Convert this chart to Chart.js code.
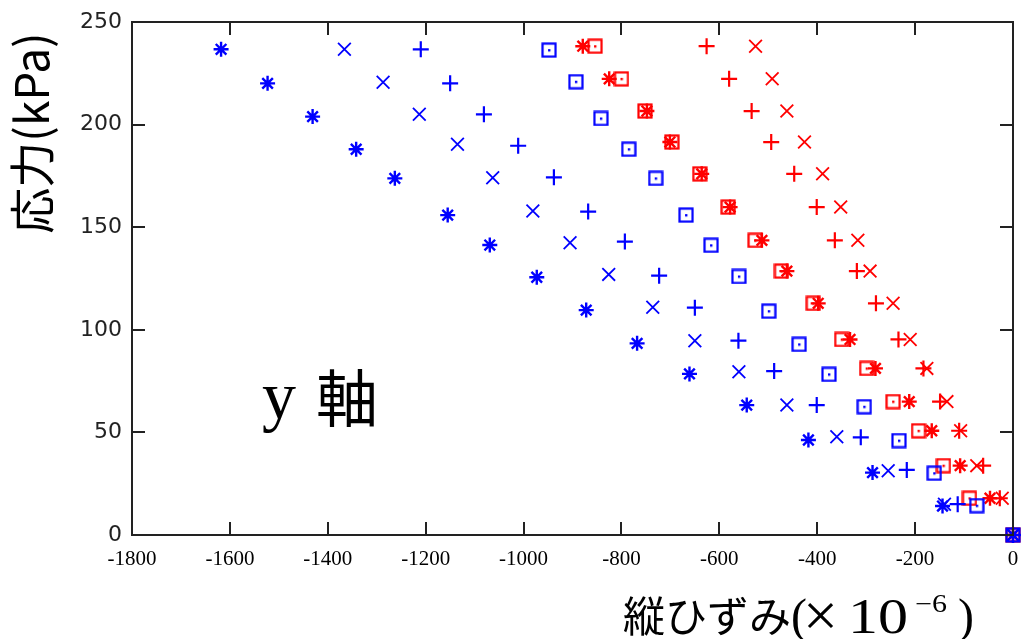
<!DOCTYPE html>
<html>
<head>
<meta charset="utf-8">
<script src="https://cdn.jsdelivr.net/npm/chart.js@4/dist/chart.umd.min.js"></script>
<style>
html,body{margin:0;padding:0;background:#fff;}
#wrap{width:1022px;height:639px;position:relative;}
</style>
</head>
<body>
<div id="wrap"><canvas id="c" width="1022" height="639"></canvas></div>
<script>
// ---- data ----
const xTickValues = [-1800,-1600,-1400,-1200,-1000,-800,-600,-400,-200,0];
const xTickLabels = ['-1800','-1600','-1400','-1200','-1000','-800','-600','-400','-200','0'];
const yTickValues = [0,50,100,150,200,250];
const yTickLabels = ['0','50','100','150','200','250'];

const blueStarX = [-1618,-1523,-1431,-1342,-1263,-1155,-1069,-973,-872,-768,-661,-544,-418,-287,-144,0];
const blueStarY = [236.7,220.1,203.9,188,173.8,155.9,141.3,125.6,109.6,93.4,78.5,63.3,46.3,30.4,14.1,0];

const blueXmarkX = [-1366,-1287,-1213,-1135,-1063,-981,-905,-826,-736,-650,-560,-462,-360,-255,-140,0];
const blueXmarkY = [236.7,220.6,205,190.4,174.1,157.9,142.4,127,111,94.7,79.6,63.4,47.9,31.3,15,0];

const bluePlusX = [-1210,-1150,-1081,-1011,-938,-868,-793,-723,-650,-561,-488,-401,-311,-217,-113,0];
const bluePlusY = [236.7,220.1,205,189.7,174.3,157.6,143,126.4,110.8,94.7,79.9,63.3,47.6,31.7,15,0];

const blueSquareX = [-948,-893,-842,-785,-730,-668,-617,-560,-499,-437,-376,-304,-233,-161,-74,0];
const blueSquareY = [236.3,220.9,203,188,173.8,155.9,141.2,126,109.1,92.9,78.3,62.5,46,30.1,14.3,0];

const redY = [238.2,222.3,206.6,191.5,176,159.8,143.6,128.6,112.9,95.3,81.2,65,50.8,33.8,17.9,0];
const redSquareX = [-854,-800,-752,-697,-640,-582,-527,-473,-408,-350,-299,-245,-193,-142,-89,0];
const redStarX = [-879,-825,-748,-701,-636,-578,-513,-462,-398,-333,-281,-212,-166,-108,-47,0];
const redPlusX = [-626,-580,-534,-494,-447,-401,-364,-319,-280,-234,-183,-149,-110,-61,-27,0];
const redXmarkX = [-526,-492,-462,-426,-389,-352,-317,-292,-245,-210,-176,-135,-107,-74,-22,0];

const BLUE = '#0000ff', RED = '#ff0000';

function pts(xs, ys){ return xs.map((v,i)=>({x:v, y:ys[i]})); }

function squareDot(color){
  const c = document.createElement('canvas');
  c.width = 16; c.height = 16;
  const g = c.getContext('2d');
  g.strokeStyle = color; g.lineWidth = 2.2;
  g.strokeRect(1.5,1.5,13,13);
  g.fillStyle = color;
  g.fillRect(7,7,2.4,2.4);
  return c;
}

function ds(data, color, style, radius, bw){
  return {data, pointStyle: style, pointRadius: radius, pointHoverRadius: radius,
    borderColor: color, backgroundColor: 'rgba(0,0,0,0)', pointBorderWidth: bw,
    showLine: false, clip: false};
}

const deco = {
  id: 'deco',
  afterDraw(chart){
    const {ctx, chartArea: a, scales: {x, y}} = chart;
    ctx.save();
    ctx.strokeStyle = '#222'; ctx.lineWidth = 2;
    ctx.strokeRect(a.left, a.top, a.right - a.left, a.bottom - a.top);
    const L = 13;
    ctx.beginPath();
    xTickValues.forEach(v => {
      const p = Math.round(x.getPixelForValue(v));
      ctx.moveTo(p, a.bottom); ctx.lineTo(p, a.bottom - L);
      ctx.moveTo(p, a.top); ctx.lineTo(p, a.top + L);
    });
    yTickValues.forEach(v => {
      const p = Math.round(y.getPixelForValue(v));
      ctx.moveTo(a.left, p); ctx.lineTo(a.left + L, p);
      ctx.moveTo(a.right, p); ctx.lineTo(a.right - L, p);
    });
    ctx.stroke();

    ctx.fillStyle = '#000';
    // y axis title
    ctx.save();
    ctx.translate(32, 133);
    ctx.rotate(-Math.PI/2);
    ctx.textAlign = 'center'; ctx.textBaseline = 'middle';
    ctx.font = '46px "Noto Sans CJK JP"';
    ctx.fillText('応力(kPa)', 0, 0);
    ctx.restore();

    // x axis title
    ctx.textAlign = 'left'; ctx.textBaseline = 'alphabetic';
    ctx.font = '42px "Noto Sans CJK JP"';
    ctx.fillText('縦ひずみ', 623, 632);
    ctx.font = '48px "Liberation Serif"';
    ctx.fillText('(', 791, 632);
    ctx.font = '62px "Liberation Serif"';
    ctx.fillText('×', 803, 636);
    ctx.save();
    ctx.translate(848, 633);
    ctx.scale(1.2, 1);
    ctx.font = '50px "Liberation Serif"';
    ctx.fillText('10', 0, 0);
    ctx.restore();
    ctx.save();
    ctx.translate(915, 612);
    ctx.scale(1.2, 1);
    ctx.font = '25px "Liberation Serif"';
    ctx.fillText('−6', 0, 0);
    ctx.restore();
    ctx.font = '48px "Liberation Serif"';
    ctx.fillText(')', 958, 632);

    // annotation
    ctx.font = '68px "Liberation Serif"';
    ctx.fillText('y', 262, 419);
    ctx.font = '62px "Noto Sans CJK JP"';
    ctx.textBaseline = 'middle';
    ctx.fillText('軸', 316, 398);
    ctx.restore();
  }
};

new Chart(document.getElementById('c'), {
  type: 'scatter',
  data: {
    datasets: [
      ds(pts(blueStarX, blueStarY), BLUE, 'star', 7.5, 2.4),
      ds(pts(blueXmarkX, blueXmarkY), BLUE, 'crossRot', 9, 1.8),
      ds(pts(bluePlusX, bluePlusY), BLUE, 'cross', 8, 2.2),
      ds(pts(blueSquareX, blueSquareY), BLUE, squareDot(BLUE), 8, 2),
      ds(pts(redSquareX, redY), RED, squareDot(RED), 8, 2),
      ds(pts(redStarX, redY), RED, 'star', 7.5, 2.4),
      ds(pts(redPlusX, redY), RED, 'cross', 8, 2.2),
      ds(pts(redXmarkX, redY), RED, 'crossRot', 9, 1.8)
    ]
  },
  options: {
    responsive: false,
    animation: false,
    events: [],
    layout: {autoPadding: false, padding: {left: 0, right: 9, top: 22, bottom: 0}},
    plugins: {legend: {display: false}, tooltip: {enabled: false}},
    scales: {
      x: {
        type: 'linear', min: -1800, max: 0,
        afterBuildTicks: s => { s.ticks = xTickValues.map(v => ({value: v})); },
        afterFit: s => { s.height = 104; s.paddingLeft = 0; s.paddingRight = 0; },
        grid: {display: false, drawTicks: false},
        border: {display: false},
        ticks: {
          padding: 12, maxRotation: 0, autoSkip: false,
          color: '#000',
          font: {family: '"Liberation Serif"', size: 21},
          callback: (v) => xTickLabels[xTickValues.indexOf(v)]
        }
      },
      y: {
        type: 'linear', min: 0, max: 250,
        afterBuildTicks: s => { s.ticks = yTickValues.map(v => ({value: v})); },
        afterFit: s => { s.width = 132; s.paddingTop = 0; s.paddingBottom = 0; },
        grid: {display: false, drawTicks: false},
        border: {display: false},
        ticks: {
          padding: 10, autoSkip: false,
          color: '#222',
          font: {family: '"DejaVu Sans"', size: 22},
          callback: (v) => yTickLabels[yTickValues.indexOf(v)]
        }
      }
    }
  },
  plugins: [deco]
});
</script>
</body>
</html>
